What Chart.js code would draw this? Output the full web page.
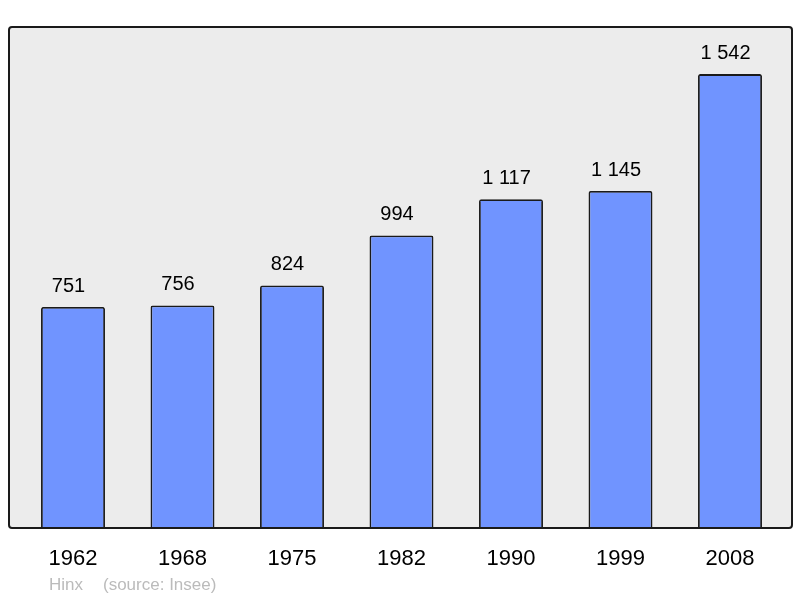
<!DOCTYPE html>
<html>
<head>
<meta charset="utf-8">
<script src="https://cdn.jsdelivr.net/npm/chart.js@4"></script>
<style>
  html, body { margin: 0; padding: 0; background: #fff; }
  #wrap { width: 800px; height: 598px; }
</style>
</head>
<body>
<div id="wrap"><canvas id="chart" width="800" height="598"></canvas></div>
<script>
// Population data (Insee)
const years = ['1962', '1968', '1975', '1982', '1990', '1999', '2008'];
const population = [751, 756, 824, 994, 1117, 1145, 1542];
const townName = 'Hinx';
const sourceText = '(source: Insee)';

const FONT = '"Liberation Sans", Arial, sans-serif';

// format 1542 -> "1 542"
function fmt(v) {
    return String(v).replace(/\B(?=(\d{3})+(?!\d))/g, ' ');
}

// grey panel behind the bars, frame and texts on top
const framePlugin = {
    id: 'frame',
    beforeDatasetsDraw(chart) {
        const ctx = chart.ctx;
        ctx.save();
        ctx.fillStyle = '#ececec';
        ctx.beginPath();
        ctx.roundRect(9, chart.chartArea.top, 783, chart.chartArea.bottom - chart.chartArea.top, 3);
        ctx.fill();
        ctx.restore();
    },
    afterDatasetsDraw(chart) {
        const ctx = chart.ctx;
        const a = chart.chartArea;
        const x = chart.scales.x;
        const y = chart.scales.y;
        ctx.save();
        ctx.strokeStyle = '#1a1a1a';
        ctx.lineWidth = 2;
        ctx.beginPath();
        ctx.roundRect(9, a.top, 783, a.bottom - a.top, 3);
        ctx.stroke();

        // value labels above bars (slightly left of bar centre, as in the original)
        ctx.fillStyle = '#000';
        ctx.textAlign = 'center';
        ctx.textBaseline = 'alphabetic';
        ctx.font = '20px ' + FONT;
        population.forEach((v, i) => {
            ctx.fillText(fmt(v), x.getPixelForValue(i) - 4.5, y.getPixelForValue(v) - 15);
        });

        // year labels
        ctx.font = '22px ' + FONT;
        years.forEach((yr, i) => {
            ctx.fillText(yr, x.getPixelForValue(i), 565);
        });

        // footer
        ctx.textAlign = 'left';
        ctx.fillStyle = '#bbbbbb';
        ctx.font = '17px ' + FONT;
        ctx.fillText(townName, 49, 590);
        ctx.fillText(sourceText, 103, 590);
        ctx.restore();
    }
};

new Chart(document.getElementById('chart'), {
    type: 'bar',
    data: {
        labels: years,
        datasets: [{
            data: population,
            backgroundColor: '#7094ff',
            borderColor: '#1a1a1a',
            borderWidth: 1.8,
            borderSkipped: 'bottom',
            borderRadius: 2,
            barPercentage: 1,
            categoryPercentage: 0.584
        }]
    },
    options: {
        responsive: false,
        animation: false,
        layout: {
            padding: { left: 18.25, right: 15.25, top: 27, bottom: 70 }
        },
        plugins: {
            legend: { display: false },
            tooltip: { enabled: false },
            title: { display: false }
        },
        scales: {
            x: {
                display: false,
                offset: true
            },
            y: {
                display: false,
                min: 0,
                max: 1702
            }
        }
    },
    plugins: [framePlugin]
});
</script>
</body>
</html>
